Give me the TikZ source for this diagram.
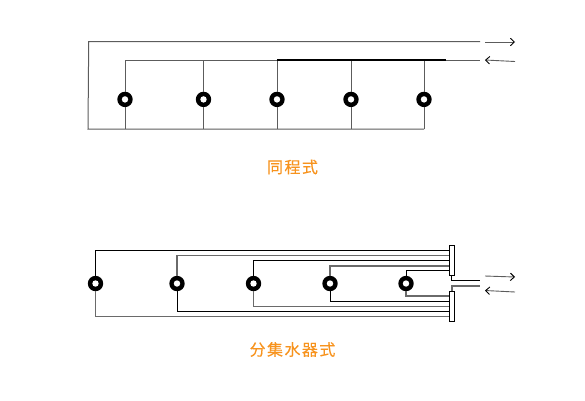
\documentclass[tikz,border=0pt]{standalone}
\usepackage{fontspec}
\usetikzlibrary{arrows.meta}
\newfontfamily\cjk[LetterSpace=9,FakeBold=0.25]{Noto Sans CJK SC}
\definecolor{pipegray}{HTML}{5C5C5C}
\definecolor{widegray}{HTML}{6A6A6A}
\definecolor{labelorange}{HTML}{F7931E}
\tikzset{
    ring/.style={circle,fill=black,minimum size=15.4pt,inner sep=0pt},
    ringhole/.style={circle,fill=white,minimum size=6.4pt,inner sep=0pt},
    blackpipe/.style={black,line width=1pt},
    graypipe/.style={widegray,line width=1.5pt},
    thinpipe/.style={pipegray,line width=1pt},
    flow/.style={pipegray,line width=0.9pt,-{Straight Barb[length=4pt,width=7.5pt,black]}},
    manifold/.style={draw=black,fill=white,line width=0.8pt,minimum width=5.5pt,minimum height=30pt,inner sep=0pt},
    caption/.style={text=labelorange,font=\cjk\fontsize{16}{18}\selectfont}
}

\begin{document}
\begin{tikzpicture}[x=1pt,y=-1pt]
    \useasboundingbox (0,0) rectangle (585,400);

    % upper loop
    \coordinate (supplyleft) at (88.7,41.5);
    \coordinate (bottomleft) at (88,129);
    \coordinate (supplyend) at (480,41.5);
    \coordinate (returnleft) at (125,60.5);
    \coordinate (returnend) at (480,60.5);

    \foreach \x/\n in {125/a,203.5/b,277/c,351/d,424/e}{
        \node[ring] (up\n) at (\x,99.4) {};
        \node[ringhole] (uphole\n) at (up\n) {};
        \coordinate (uptop\n) at (\x,60.5);
        \coordinate (upbot\n) at (\x,129);
        \draw[thinpipe] (uptop\n) -- (up\n);
        \draw[thinpipe] (up\n) -- (upbot\n);
    }

    \draw[thinpipe] (supplyend) -- (supplyleft) -- (bottomleft) -- (upbote);
    \draw[thinpipe] (returnleft) -- (returnend);
    \coordinate (thickstart) at (277,60);
    \coordinate (thickend) at (446,60);
    \draw[black,line width=1.3pt] (thickstart) -- (thickend);

    \coordinate (arrowa) at (485,42);
    \coordinate (arrowb) at (515,42);
    \coordinate (arrowc) at (515,61.5);
    \coordinate (arrowd) at (485,60);
    \draw[flow] (arrowa) -- (arrowb);
    \draw[flow] (arrowc) -- (arrowd);

    \node[caption] (samepath) at (292.5,167) {同程式};

    % lower loop with the two manifolds
    \foreach \x/\n/\top/\bot/\topstyle/\botstyle in {
        95.5/a/250.7/316.7/blackpipe/graypipe,
        177/b/255.3/311/graypipe/blackpipe,
        253.5/c/260.3/306.5/blackpipe/graypipe,
        330/d/266/301.3/graypipe/blackpipe,
        406/e/270.7/296/blackpipe/graypipe}{
        \node[ring] (low\n) at (\x,283.5) {};
        \node[ringhole] (lowhole\n) at (low\n) {};
        \coordinate (lowtop\n) at (\x,\top);
        \coordinate (lowbot\n) at (\x,\bot);
        \coordinate (toright\n) at (451,\top);
        \coordinate (botright\n) at (451,\bot);
        \draw[\topstyle] (low\n) -- (lowtop\n) -- (toright\n);
        \draw[\botstyle] (low\n) -- (lowbot\n) -- (botright\n);
    }

    \node[manifold] (manifoldtop) at (451.8,260.7) {};
    \node[manifold] (manifoldbot) at (451.8,306.7) {};

    \coordinate (outcorner) at (451.8,280);
    \coordinate (outend) at (480,280);
    \coordinate (incorner) at (451.8,286);
    \coordinate (inend) at (480,286);
    \draw[blackpipe] (manifoldtop.south) -- (outcorner) -- (outend);
    \draw[graypipe] (manifoldbot.north) -- (incorner) -- (inend);

    \coordinate (arrowe) at (485,276);
    \coordinate (arrowf) at (515,277);
    \coordinate (arrowg) at (515,292);
    \coordinate (arrowh) at (485,290.5);
    \draw[flow] (arrowe) -- (arrowf);
    \draw[flow] (arrowg) -- (arrowh);

    \node[caption] (manifoldtype) at (292.5,349.5) {分集水器式};
\end{tikzpicture}
\end{document}
